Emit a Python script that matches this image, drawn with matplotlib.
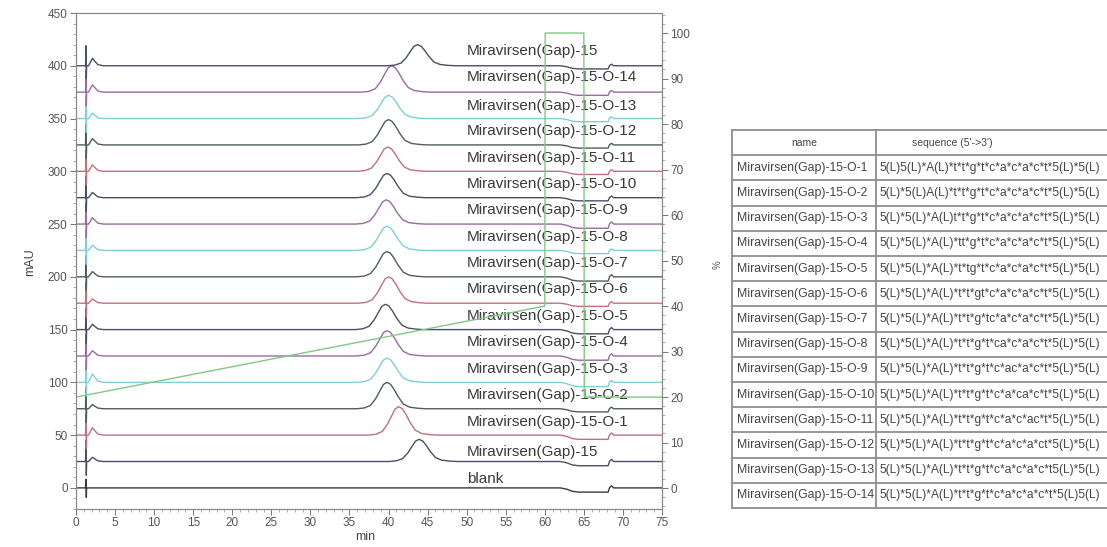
import matplotlib
matplotlib.use("Agg")
import matplotlib.pyplot as plt
from matplotlib.ticker import MultipleLocator

plt.rcParams['font.family'] = ['Liberation Sans', 'DejaVu Sans']

# traces from bottom to top
names = ['blank', 'Miravirsen(Gap)-15'] + \
        [f'Miravirsen(Gap)-15-O-{i}' for i in range(1, 15)] + ['Miravirsen(Gap)-15']
offsets = [0, 25, 50, 75, 100, 125, 150, 175, 200, 225, 250, 275, 300, 325, 350, 375, 400]
label_y = [8, 34, 62, 88, 113, 138, 163, 188, 213, 238, 263, 288, 313, 338, 362, 389, 414]
peak_rt = [0, 43.9, 41.3, 39.8, 39.8, 39.8, 39.6, 40.0, 39.8, 39.8, 39.7, 39.8,
           39.9, 40.0, 40.0, 40.4, 43.7]
peak_h = [0, 21, 27, 25, 23, 24, 24, 25, 24, 23, 23, 23, 23, 24, 22, 25, 20]
early_h = [0, 4, 7, 4, 8, 5, 5, 4, 5, 5, 6, 5, 6, 6, 5, 7, 7]
dip_depth = [4, 4, 4, 3, 4, 4, 4, 3, 4, 3, 4, 3, 3, 3, 3, 3, 3]
spike_up = [8, 20, 20, 20, 20, 20, 20, 20, 20, 20, 20, 20, 20, 20, 20, 20, 19]
spike_down = [-9, -13, -13, -13, -13, -13, -13, -13, -13, -13, -13, -13, -13, -13, -13, -13, -12]

# shapes (relative to apex)
peak_dt = [-3.9, -2.9, -2.1, -1.45, -0.9, -0.45, 0, 0.45, 0.9, 1.45, 2.1, 2.9, 3.9, 4.9]
peak_frac = [0, 0.03, 0.13, 0.38, 0.68, 0.92, 1, 0.93, 0.74, 0.45, 0.18, 0.06, 0.02, 0]
early_rt = 2.1
early_dt = [-0.5, -0.22, 0, 0.28, 0.7, 1.4]
early_frac = [0, 0.55, 1, 0.65, 0.15, 0]
spike_t = [1.22, 1.28, 1.32, 1.36]
dip_t = [62.0, 62.8, 63.5, 64.3, 68.1, 68.3, 68.55, 68.8]
dip_frac = [0, -0.3, -0.8, -1, -1, 0.1, 0.5, 0]

# gradient (%B)
grad_t = [0, 60, 60.05, 65, 65.05, 75]
grad_pct = [20, 40, 100, 100, 20, 20]

colors = ['#4a4f66', '#c0707c', '#4f5f55', '#7fcfd6', '#9a6aa0']

table_names = [f'Miravirsen(Gap)-15-O-{i}' for i in range(1, 15)]
table_seqs = [
    "5(L)5(L)*A(L)*t*t*g*t*c*a*c*a*c*t*5(L)*5(L)",
    "5(L)*5(L)A(L)*t*t*g*t*c*a*c*a*c*t*5(L)*5(L)",
    "5(L)*5(L)*A(L)t*t*g*t*c*a*c*a*c*t*5(L)*5(L)",
    "5(L)*5(L)*A(L)*tt*g*t*c*a*c*a*c*t*5(L)*5(L)",
    "5(L)*5(L)*A(L)*t*tg*t*c*a*c*a*c*t*5(L)*5(L)",
    "5(L)*5(L)*A(L)*t*t*gt*c*a*c*a*c*t*5(L)*5(L)",
    "5(L)*5(L)*A(L)*t*t*g*tc*a*c*a*c*t*5(L)*5(L)",
    "5(L)*5(L)*A(L)*t*t*g*t*ca*c*a*c*t*5(L)*5(L)",
    "5(L)*5(L)*A(L)*t*t*g*t*c*ac*a*c*t*5(L)*5(L)",
    "5(L)*5(L)*A(L)*t*t*g*t*c*a*ca*c*t*5(L)*5(L)",
    "5(L)*5(L)*A(L)*t*t*g*t*c*a*c*ac*t*5(L)*5(L)",
    "5(L)*5(L)*A(L)*t*t*g*t*c*a*c*a*ct*5(L)*5(L)",
    "5(L)*5(L)*A(L)*t*t*g*t*c*a*c*a*c*t5(L)*5(L)",
    "5(L)*5(L)*A(L)*t*t*g*t*c*a*c*a*c*t*5(L)5(L)",
]

W, H = 1107, 547
fig = plt.figure(figsize=(W / 100, H / 100), dpi=100)
ax = fig.add_axes([76 / W, 1 - 509 / H, (662 - 76) / W, (509 - 13) / H])
ax.set_xlim(0, 75)
ax.set_ylim(-20, 450)

for i, off in enumerate(offsets):
    t = [0] + spike_t
    y = [0, 0, spike_up[i], spike_down[i], 0]
    if early_h[i]:
        t += [early_rt + d for d in early_dt]
        y += [early_h[i] * f for f in early_frac]
    if peak_h[i]:
        t += [peak_rt[i] + d for d in peak_dt]
        y += [peak_h[i] * f for f in peak_frac]
    t += dip_t + [75]
    y += [dip_depth[i] * f for f in dip_frac] + [0]
    c = '#3a3a3a' if i == 0 else colors[(i - 1) % len(colors)]
    ax.plot(t, [off + v for v in y], color=c, lw=1.0)
    ax.text(50, label_y[i], names[i], fontsize=11, color='#3a3a3a', va='center')

ax2 = ax.twinx()
ax2.set_ylim(-4.6, 104.4)
ax2.plot(grad_t, grad_pct, color='#82c882', lw=1.0)

ax.xaxis.set_major_locator(MultipleLocator(5))
ax.xaxis.set_minor_locator(MultipleLocator(1))
ax.yaxis.set_major_locator(MultipleLocator(50))
ax.yaxis.set_minor_locator(MultipleLocator(10))
ax2.yaxis.set_major_locator(MultipleLocator(10))
ax2.yaxis.set_minor_locator(MultipleLocator(2))
for a in (ax, ax2):
    a.tick_params(which='major', length=4, width=0.7, color='#777777',
                  labelsize=8.5, labelcolor='#555555', pad=2)
    a.tick_params(which='minor', length=2, width=0.5, color='#888888')
    for s in a.spines.values():
        s.set_color('#888888')
        s.set_linewidth(0.8)

fig.text(30 / W, 1 - 262 / H, 'mAU', rotation=90, fontsize=9, color='#444444',
         ha='center', va='center')
fig.text(365 / W, 1 - 537 / H, 'min', fontsize=9, color='#444444', ha='center', va='center')
fig.text(718 / W, 1 - 265 / H, '%', rotation=90, fontsize=7, color='#555555',
         ha='center', va='center')

# sequence table
tx0, tx1, ty0, ty1 = 732, 1107, 130, 508
tax = fig.add_axes([tx0 / W, 1 - ty1 / H, (tx1 - tx0) / W, (ty1 - ty0) / H])
tax.set_xlim(tx0, tx1)
tax.set_ylim(ty1, ty0)
tax.axis('off')
nrows = len(table_names) + 1
rh = (ty1 - ty0) / nrows
for k in range(nrows + 1):
    tax.plot([tx0, tx1 + 20], [ty0 + k * rh] * 2, color='#8f8f8f', lw=1.3, clip_on=False)
for xv in (tx0, 876):
    tax.plot([xv, xv], [ty0, ty1], color='#8f8f8f', lw=1.3, clip_on=False)
tax.text(804, ty0 + rh / 2, 'name', fontsize=7.5, color='#444444', ha='center', va='center')
tax.text(952, ty0 + rh / 2, "sequence (5'->3')", fontsize=7.5, color='#444444',
         ha='center', va='center')
for k, (nm, sq) in enumerate(zip(table_names, table_seqs)):
    yc = ty0 + (k + 1.5) * rh
    tax.text(737, yc, nm, fontsize=8.8, color='#444444', va='center')
    tax.text(880, yc, sq, fontsize=8.6, color='#444444', va='center')

fig.savefig('out.png', dpi=100)
